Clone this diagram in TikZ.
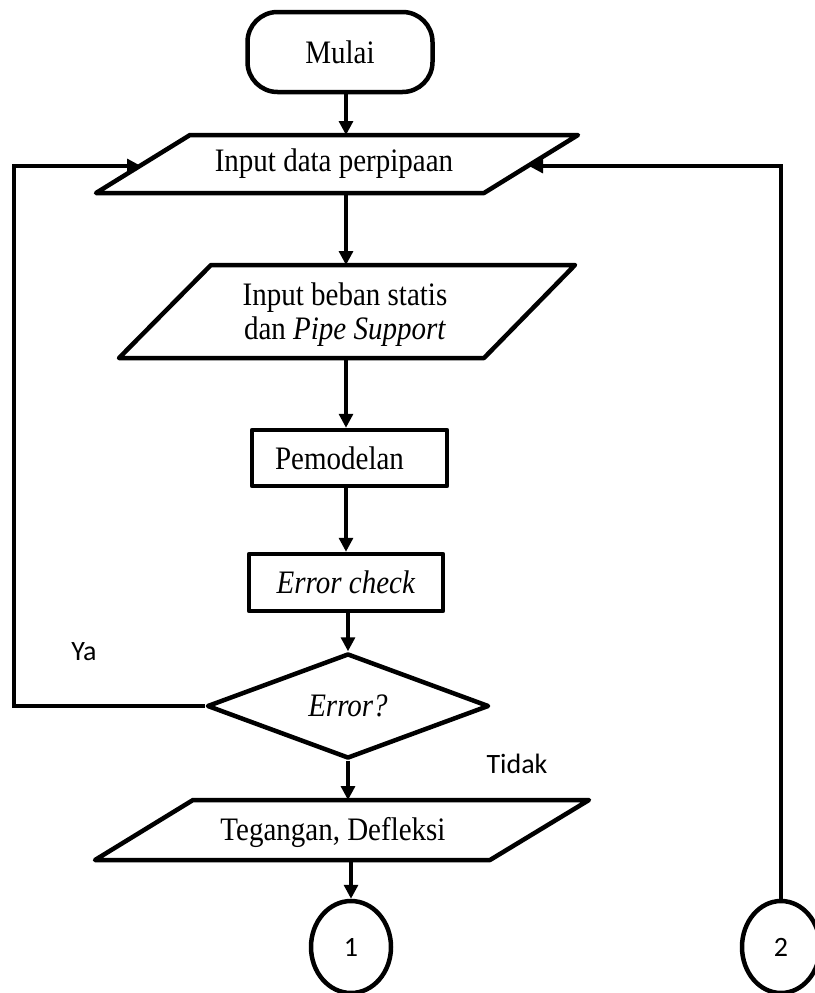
\documentclass[tikz,border=0pt]{standalone}
\usepackage{fontspec}
\setmainfont{Liberation Serif}
\newfontfamily\calib{Carlito}
\usetikzlibrary{arrows.meta,shapes.geometric,calc}
\newcommand\tx[1]{\scalebox{1}[1.13]{#1}}
\begin{document}
\begin{tikzpicture}[x=1pt,y=-1pt,
  shapeline/.style={line width=4.5pt,line join=round},
  conn/.style={line width=3.2pt,-{Triangle[length=14pt,width=14pt]}},
  txt/.style={font=\fontsize{29}{34}\selectfont,inner sep=0pt},
  lbl/.style={font=\calib\fontsize{28}{32}\selectfont,inner sep=0pt}]
\useasboundingbox (0,0) rectangle (814,993);

% Start
\node[draw,shapeline,rounded corners=30pt,minimum width=185pt,minimum height=80pt,txt] (mulai) at (340,52) {\tx{Mulai}};

% Input data perpipaan
\draw[shapeline] (190,135) -- (578,135) -- (484,193) -- (96,193) -- cycle;
\node[txt] (in1) at (334,164) {\tx{Input data perpipaan}};
\coordinate (in1n) at (346,135);
\coordinate (in1s) at (346,193);
\coordinate (in1w) at (141,166);
\coordinate (in1e) at (529,166);

% Input beban statis
\draw[shapeline] (211,265) -- (575,265) -- (484,358) -- (119,358) -- cycle;
\node[txt,align=center] (in2) at (345,315) {\tx{Input beban statis}\\\tx{dan \textit{Pipe Support}}};
\coordinate (in2n) at (346,265);
\coordinate (in2s) at (346,358);

% Pemodelan
\node[draw,shapeline,minimum width=195pt,minimum height=56pt,txt] (pem) at (349.5,458) {\tx{Pemodelan}\hspace*{20pt}};

% Error check
\node[draw,shapeline,minimum width=194pt,minimum height=57pt,txt] (err) at (346,582.5) {\tx{\textit{Error check}}};

% Decision
\node[draw,shapeline,diamond,minimum width=282pt,minimum height=105pt,txt] (dec) at (348,706) {\raisebox{-6pt}{\tx{\textit{Error?}}}};

% Tegangan, Defleksi
\draw[shapeline] (193,800) -- (589,800) -- (490,860) -- (95,860) -- cycle;
\node[txt] (teg) at (333,832) {\tx{Tegangan, Defleksi}};
\coordinate (tegn) at (349,800);
\coordinate (tegs) at (351,860);

% Connectors
\node[draw,shapeline,ellipse,minimum width=80pt,minimum height=92pt,lbl] (c1) at (351,947) {1};
\node[draw,shapeline,ellipse,minimum width=78pt,minimum height=92pt,lbl] (c2) at (781,947) {2};

\draw[conn] (in1n |- mulai.south) -- (in1n);
\draw[conn] (in1s) -- (in2n);
\draw[conn] (in2s) -- (in2s |- pem.north);
\draw[conn] (in2s |- pem.south) -- (in2s |- err.north);
\draw[conn] (dec.north |- err.south) -- (dec.north);
\draw[conn] (dec.south) -- (dec.south |- tegn);
\draw[conn] (tegs) -- (c1.north);

\coordinate (lc) at (14,166);
\draw[conn] (dec.west) -| (lc) -- (in1w);
\draw[conn] (c2.north) |- (in1e);

% Labels
\node[lbl] (ya) at (84,652) {Ya};
\node[lbl] (tidak) at (517,764) {Tidak};
\end{tikzpicture}
\end{document}
